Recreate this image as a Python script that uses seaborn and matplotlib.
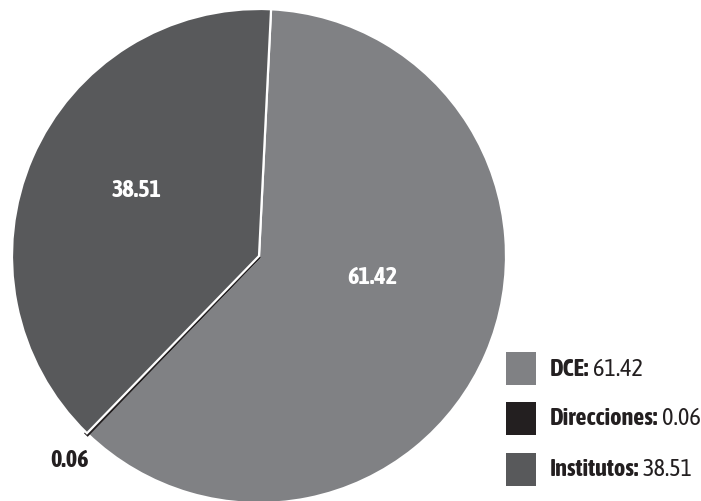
import matplotlib
matplotlib.use("Agg")
import matplotlib.pyplot as plt
import seaborn as sns
from matplotlib.patches import Rectangle

categories = ["DCE", "Direcciones", "Institutos"]
values = [61.42, 0.06, 38.51]
value_labels = ["61.42", "0.06", "38.51"]
colors = ["#808184", "#231f20", "#58595b"]

sns.set_theme(style="white")
plt.rcParams['font.family'] = ['Asap Condensed', 'DejaVu Sans']

fig = plt.figure(figsize=(7.01, 5.02), dpi=100)
W, H = 701, 502
cx, cy, r = 259, 257, 247
ax = fig.add_axes([(cx - r) / W, (H - cy - r) / H, 2 * r / W, 2 * r / H])

wedges, _ = ax.pie(values, colors=sns.color_palette(colors), startangle=87.2,
                   counterclock=False, radius=1,
                   wedgeprops=dict(edgecolor="white", linewidth=1.6))
wedges[1].set_edgecolor(colors[1])
wedges[1].set_linewidth(3.0)
ax.set_xlim(-1, 1)
ax.set_ylim(-1, 1)
ax.set_aspect("auto")
ax.axis("off")

fs = 17.5
ax.text(0.457, -0.081, value_labels[0], color="white", fontsize=fs, fontweight="bold",
        ha="center", va="center")
ax.text(-0.494, 0.271, value_labels[2], color="white", fontsize=fs, fontweight="bold",
        ha="center", va="center")
ax.text(-0.765, -0.822, value_labels[1], color="#231f20", fontsize=fs, fontweight="bold",
        ha="center", va="center")

ys = [369, 419, 470]
for cat, val, col, y in zip(categories, value_labels, colors, ys):
    fig.patches.append(Rectangle((506 / W, (H - y - 16.5) / H), 30 / W, 33 / H,
                                 transform=fig.transFigure, facecolor=col,
                                 edgecolor="none"))
    t = fig.text(550 / W, (H - y) / H, cat + ":", fontsize=fs, fontweight="bold",
                 color="#231f20", ha="left", va="center")
    ax.annotate(val, xy=(1, 0.5), xycoords=t, xytext=(2.5, 0),
                textcoords="offset points", fontsize=fs, color="#231f20",
                ha="left", va="center", annotation_clip=False)

fig.savefig("out.png", dpi=100)
